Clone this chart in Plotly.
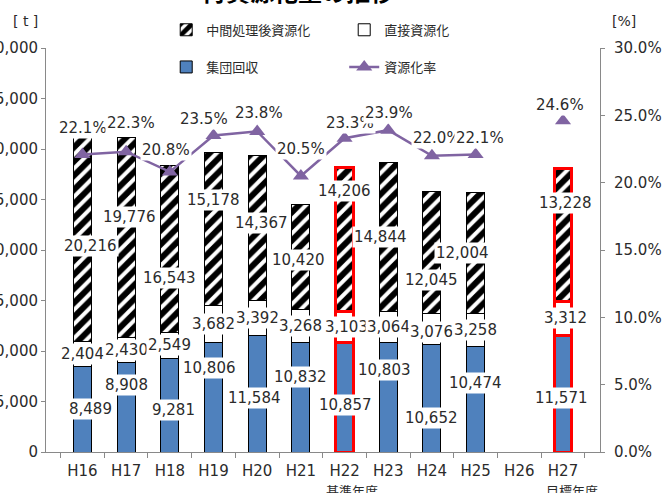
import plotly.graph_objects as go

years = ["H16", "H17", "H18", "H19", "H20", "H21", "H22", "H23", "H24", "H25", "H26", "H27"]
collect = [8489, 8908, 9281, 10806, 11584, 10832, 10857, 10803, 10652, 10474, None, 11571]
direct = [2404, 2430, 2549, 3682, 3392, 3268, 3103, 3064, 3076, 3258, None, 3312]
inter = [20216, 19776, 16543, 15178, 14367, 10420, 14206, 14844, 12045, 12004, None, 13228]
rate = [22.1, 22.3, 20.8, 23.5, 23.8, 20.5, 23.3, 23.9, 22.0, 22.1, None, 24.6]

# label offsets (px) – style only
collect_dx = [8, 0, 4, -4, -3, 0, 1, -4, 0, 0, 0, -2]
collect_dy = [0, 22, -5, 29, -4, 20, -8, 27, -20, 16, 0, -4]
direct_dx = [0, 0, 0, 0, 0, 0, 2, 0, 0, 0, 0, 2]
direct_dy = [0, 0, 0, 0, 0, 0, 0, 0, -3, 0, 0, 0]
inter_dx = [8, 3, 0, 0, 4, -2, 0, -8, 0, -13, 0, 2]
inter_dy = [-6, 21, -29, 29, 5, -3, 48, 0, -27, 0, 0, 32]
rate_dx = [1, 5, -4, -10, 2, 0, 5, 1, 5, 4, 0, -3]
rate_dy = [26, 29, 22, 17, 18, 27, 15, 17, 18, 16, 0, 16]

highlight = ["H22", "H27"]
line_colors = ["red" if y in highlight else "black" for y in years]
line_widths = [3 if y in highlight else 1 for y in years]

FONT = "DejaVu Sans, Noto Sans CJK JP"
BLUE = "#4F81BD"
PURPLE = "#8064A2"
TXT = "#2b2b2b"

fig = go.Figure()
fig.add_trace(go.Bar(
    x=years, y=collect, name="集団回収", legend="legend2", legendrank=3,
    marker=dict(color=BLUE, line=dict(color=line_colors, width=line_widths)),
    width=0.41,
))
fig.add_trace(go.Bar(
    x=years, y=direct, name="直接資源化", legend="legend", legendrank=2,
    marker=dict(color="white", line=dict(color=line_colors, width=line_widths)),
    width=0.41,
))
fig.add_trace(go.Bar(
    x=years, y=inter, name="中間処理後資源化", legend="legend", legendrank=1,
    marker=dict(color="white",
                pattern=dict(shape="/", fgcolor="black", bgcolor="white", size=10,
                             solidity=0.6, fgopacity=1),
                line=dict(color=line_colors, width=line_widths)),
    width=0.41,
))
fig.add_trace(go.Scatter(
    x=years, y=rate, name="資源化率", legend="legend2", legendrank=4, yaxis="y2",
    mode="lines+markers", connectgaps=False,
    line=dict(color=PURPLE, width=2.5),
    marker=dict(symbol="triangle-up", size=14, color=PURPLE),
))

ann = []
def lab(x, y, text, dx, dy, yref="y"):
    ann.append(dict(x=x, y=y, xref="x", yref=yref, text=text, showarrow=False,
                    xshift=dx, yshift=dy, bgcolor="white", borderpad=1,
                    font=dict(family=FONT, size=15, color=TXT)))

for i, yr in enumerate(years):
    if collect[i] is None:
        continue
    c, d, m = collect[i], direct[i], inter[i]
    lab(yr, c / 2, f"{c:,}", collect_dx[i], collect_dy[i])
    lab(yr, c + d / 2, f"{d:,}", direct_dx[i], direct_dy[i])
    lab(yr, c + d + m / 2, f"{m:,}", inter_dx[i], inter_dy[i])
    lab(yr, rate[i], f"{rate[i]:.1f}%", rate_dx[i], rate_dy[i], yref="y2")

# title (cropped at top, as in reference)
ann.append(dict(x=0.455, y=1.095, xref="paper", yref="paper", text="<b>再資源化量の推移</b>",
                showarrow=False, yanchor="bottom",
                font=dict(family="Noto Sans CJK JP", size=24, color="black")))
ann.append(dict(x=-0.064, y=1.092, xref="paper", yref="paper", text="[ t ]",
                showarrow=False, font=dict(family=FONT, size=14, color=TXT)))
ann.append(dict(x=1.068, y=1.092, xref="paper", yref="paper", text="[%]",
                showarrow=False, font=dict(family=FONT, size=14, color=TXT)))
ann.append(dict(x="H22", y=-0.066, xref="x", yref="paper", text="基準年度", xshift=7,
                showarrow=False, yanchor="top",
                font=dict(family="Noto Sans CJK JP", size=13, color=TXT)))
ann.append(dict(x="H27", y=-0.066, xref="x", yref="paper", text="目標年度", xshift=9,
                showarrow=False, yanchor="top",
                font=dict(family="Noto Sans CJK JP", size=13, color=TXT)))

legend_common = dict(orientation="h", x=0.217, xanchor="left", yanchor="middle",
                     entrywidth=133, entrywidthmode="pixels", traceorder="normal",
                     font=dict(family="Noto Sans CJK JP", size=13, color=TXT),
                     bgcolor="rgba(0,0,0,0)", itemwidth=30)

fig.update_layout(
    width=667, height=493,
    margin=dict(l=46, r=67, t=48, b=41, autoexpand=False),
    paper_bgcolor="white", plot_bgcolor="white",
    barmode="stack",
    font=dict(family=FONT, size=15, color=TXT),
    annotations=ann,
    showlegend=True,
    legend=dict(y=1.045, **legend_common),
    legend2=dict(y=0.953, **legend_common),
    xaxis=dict(type="category", categoryorder="array", categoryarray=years,
               showline=True, linecolor="#898989", linewidth=1,
               ticks="outside", tickson="boundaries", ticklen=5, tickcolor="#898989",
               showgrid=False, tickfont=dict(size=15), ticklabelstandoff=5),
    yaxis=dict(range=[0, 40000], dtick=5000, tickformat=",", showgrid=False,
               showline=True, linecolor="#898989", ticks="outside", ticklen=4,
               tickcolor="#898989", zeroline=False, tickfont=dict(size=15)),
    yaxis2=dict(range=[0, 30], dtick=5, tickformat=".1f", ticksuffix="%", overlaying="y",
                side="right", showgrid=False, showline=True, linecolor="#898989",
                ticks="outside", ticklen=4, tickcolor="#898989", zeroline=False,
                tickfont=dict(size=15), ticklabelstandoff=6),
)

# remove the default 8px page margin so the figure starts at the window's corner
fig.write_html("out.html", config={"displayModeBar": False},
               post_script="document.body.style.margin='0px';")
